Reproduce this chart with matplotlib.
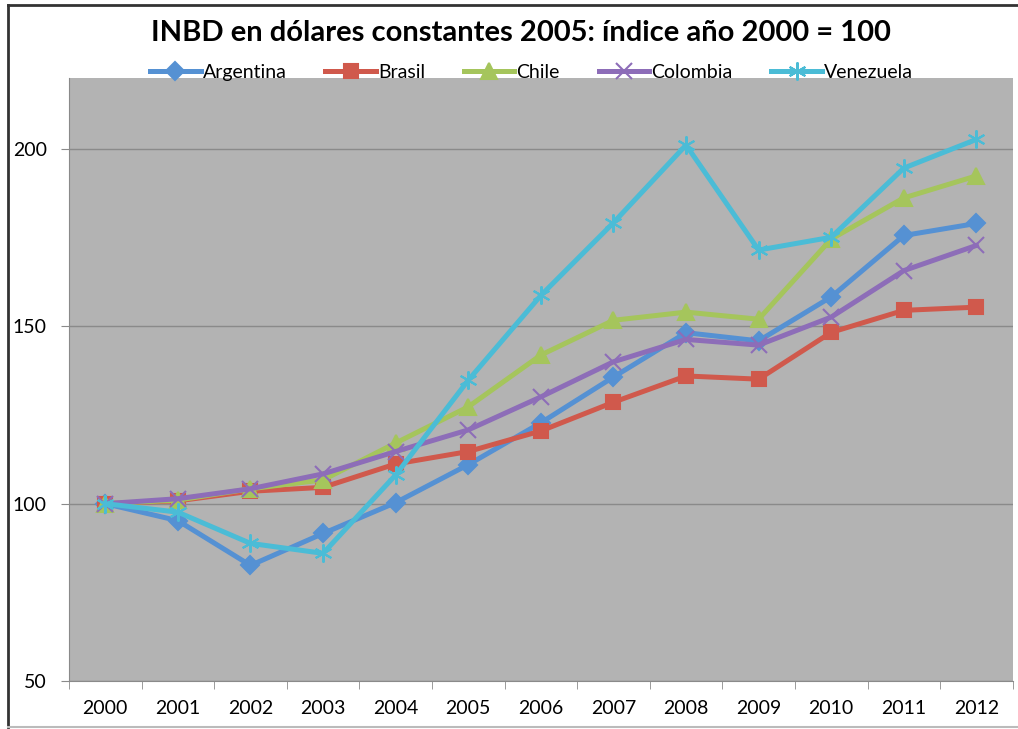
import numpy as np
import matplotlib.pyplot as plt
from matplotlib.lines import Line2D

plt.rcParams['font.family'] = ['Lato', 'DejaVu Sans']

years = ['2000', '2001', '2002', '2003', '2004', '2005', '2006',
         '2007', '2008', '2009', '2010', '2011', '2012']
argentina = [100, 95.2, 82.6, 91.6, 100.3, 111.0, 122.8, 135.7, 148.2, 145.9, 158.3, 175.6, 179.0]
brasil = [100, 100.8, 103.5, 104.6, 111.2, 114.7, 120.5, 128.6, 136.0, 135.1, 148.3, 154.5, 155.4]
chile = [100, 101.0, 104.2, 106.7, 117.1, 127.3, 141.9, 151.7, 154.0, 152.0, 174.6, 186.2, 192.4]
colombia = [100, 101.4, 104.2, 108.4, 114.7, 120.8, 130.1, 140.0, 146.3, 144.7, 152.6, 165.7, 172.8]
venezuela = [100, 97.6, 88.8, 86.0, 108.1, 134.8, 158.7, 179.2, 201.1, 171.5, 175.1, 194.6, 202.7]

series = [('Argentina', argentina, '#5591D3', 'D', 9),
          ('Brasil', brasil, '#D0594C', 's', 10),
          ('Chile', chile, '#A5C55C', '^', 11),
          ('Colombia', colombia, '#8D6DB8', 'x', 11),
          ('Venezuela', venezuela, '#4BBCD6', (6, 2, 0), 13)]

fig = plt.figure(figsize=(10.18, 7.29), dpi=100)
ax = fig.add_axes([0.0678, 0.0658, 0.927, 0.8272])
ax.set_facecolor('#B3B3B3')

x = np.arange(len(years))
for name, vals, col, mk, ms in series:
    ax.plot(x, vals, color=col, lw=3.6, marker=mk, markersize=ms,
            markeredgecolor=col, markeredgewidth=1.5, label=name)

ax.set_xlim(-0.5, len(years) - 0.5)
ax.set_ylim(50, 220)
ax.set_yticks([50, 100, 150, 200])
ax.yaxis.grid(True, color='#8A8A8A', lw=1)
ax.set_axisbelow(True)

ax.set_xticks(x)
ax.set_xticklabels(years)
ax.set_xticks(np.arange(-0.5, len(years)), minor=True)
ax.tick_params(axis='x', which='major', length=0, pad=14, labelsize=14)
ax.tick_params(axis='x', which='minor', length=6, color='#8A8A8A')
ax.tick_params(axis='y', length=6, color='#8A8A8A', labelsize=14, pad=10)

for s in ['top', 'right']:
    ax.spines[s].set_visible(False)
for s in ['left', 'bottom']:
    ax.spines[s].set_color('#8A8A8A')

fig.text(0.512, 0.955, 'INBD en dólares constantes 2005: índice año 2000 = 100',
         ha='center', va='center', fontsize=21, fontweight='bold')

ax.legend(loc='lower center', bbox_to_anchor=(0.49, 0.982), ncol=5, frameon=False,
          fontsize=14, handlelength=2.6, handletextpad=0.1, columnspacing=2.0,
          borderaxespad=0)

# marco exterior
fig.add_artist(Line2D([0.008, 1], [0.993, 0.993], color='#333333', lw=2))
fig.add_artist(Line2D([0.008, 0.008], [0.003, 0.993], color='#333333', lw=2))
fig.add_artist(Line2D([0.008, 1], [0.003, 0.003], color='#BBBBBB', lw=1.5))

fig.savefig('out.png', dpi=100)
